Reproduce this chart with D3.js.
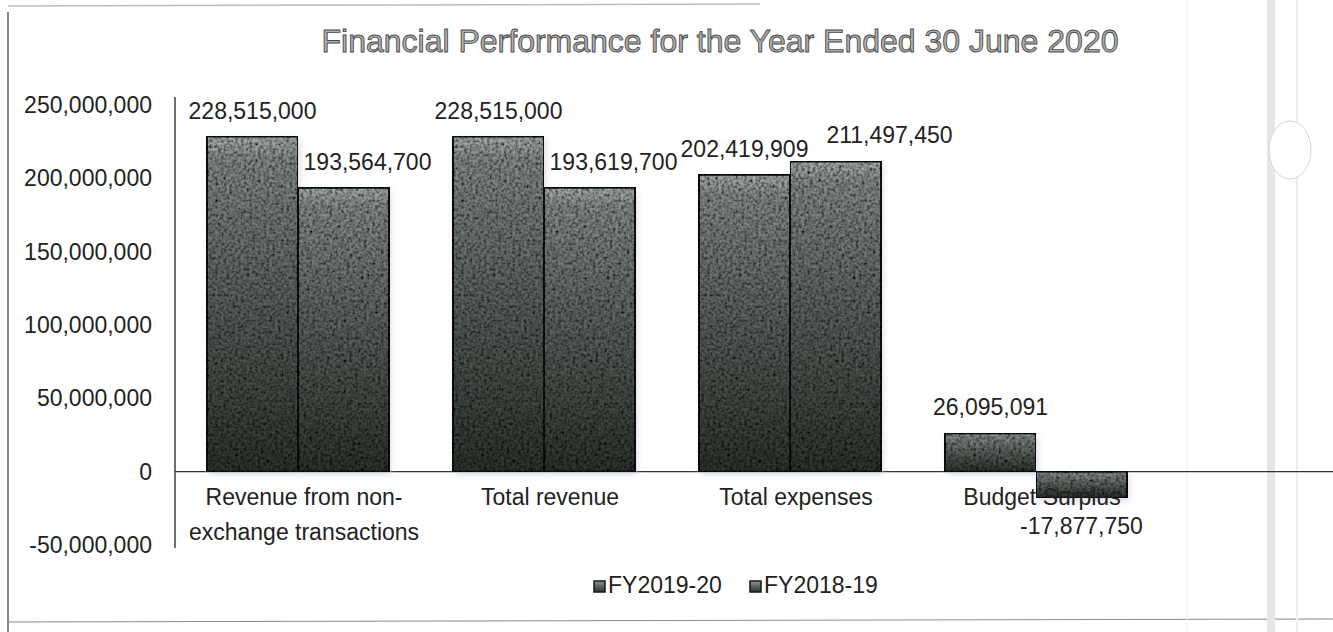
<!DOCTYPE html>
<html>
<head>
<meta charset="utf-8">
<script src="https://cdn.jsdelivr.net/npm/d3@7/dist/d3.min.js"></script>
<style>
  body { margin: 0; background: #fff; }
  text { font-family: "Liberation Sans", Arial, sans-serif; }
</style>
</head>
<body>
<div class="chart"></div>
<script>
// data
var categories = ["Revenue from non-exchange transactions", "Total revenue", "Total expenses", "Budget Surplus"];
var catLines = [["Revenue from non-", "exchange transactions"], ["Total revenue"], ["Total expenses"], ["Budget Surplus"]];
var seriesNames = ["FY2019-20", "FY2018-19"];
var fy2020 = [228515000, 228515000, 202419909, 26095091];
var fy2019 = [193564700, 193619700, 211497450, -17877750];
var yTicks = [-50000000, 0, 50000000, 100000000, 150000000, 200000000, 250000000];

var svgWidth = 1333, svgHeight = 632;

var svg = d3.select(".chart")
  .append("svg")
  .attr("width", svgWidth)
  .attr("height", svgHeight);

// gradient + grainy texture for the bars
var defs = svg.append("defs");
var grad = defs.append("linearGradient")
  .attr("id", "barGrad")
  .attr("x1", 0).attr("y1", 0).attr("x2", 0).attr("y2", 1);
grad.append("stop").attr("offset", "0%").attr("stop-color", "#a9b0ad");
grad.append("stop").attr("offset", "7%").attr("stop-color", "#868d8a");
grad.append("stop").attr("offset", "55%").attr("stop-color", "#575e5a");
grad.append("stop").attr("offset", "100%").attr("stop-color", "#30362f");

var grain = defs.append("filter").attr("id", "grain")
  .attr("x", 0).attr("y", 0).attr("width", 1).attr("height", 1);
grain.append("feTurbulence")
  .attr("type", "fractalNoise")
  .attr("baseFrequency", 0.35)
  .attr("numOctaves", 2)
  .attr("seed", 4)
  .attr("result", "noise");
grain.append("feColorMatrix")
  .attr("in", "noise")
  .attr("type", "matrix")
  .attr("values", "0 0 0 0 0  0 0 0 0 0  0 0 0 0 0  0 0 0 -1.8 1.25")
  .attr("result", "dots");
grain.append("feComposite")
  .attr("in", "dots").attr("in2", "SourceGraphic")
  .attr("operator", "in").attr("result", "dotsIn");
grain.append("feMerge").call(function(m) {
  m.append("feMergeNode").attr("in", "SourceGraphic");
  m.append("feMergeNode").attr("in", "dotsIn");
});

var shadow = defs.append("filter").attr("id", "shadow")
  .attr("x", "-10%").attr("y", "-10%").attr("width", "130%").attr("height", "130%");
shadow.append("feGaussianBlur").attr("stdDeviation", 3);

// page frame (scan edges)
svg.append("line").attr("x1", 8).attr("y1", 12).attr("x2", 8).attr("y2", 632)
  .attr("stroke", "#333").attr("stroke-width", 1.2);
svg.append("line").attr("x1", 8).attr("y1", 6).attr("x2", 760).attr("y2", 4)
  .attr("stroke", "#bbb").attr("stroke-width", 1.5);
svg.append("line").attr("x1", 8).attr("y1", 622).attr("x2", 1333).attr("y2", 619)
  .attr("stroke", "#888").attr("stroke-width", 1);
svg.append("line").attr("x1", 1187).attr("y1", 0).attr("x2", 1187).attr("y2", 632)
  .attr("stroke", "#ececf4").attr("stroke-width", 1);
svg.append("rect").attr("x", 1267).attr("y", 0).attr("width", 8).attr("height", 632)
  .attr("fill", "#e6e6e6");
svg.append("line").attr("x1", 1297).attr("y1", 0).attr("x2", 1297).attr("y2", 632)
  .attr("stroke", "#eee").attr("stroke-width", 2);
svg.append("ellipse").attr("cx", 1290).attr("cy", 150).attr("rx", 21).attr("ry", 29)
  .attr("fill", "#fff").attr("stroke", "#d5d5d5").attr("stroke-width", 1);

// title
svg.append("text")
  .attr("x", 720)
  .attr("y", 52)
  .attr("text-anchor", "middle")
  .style("font-size", "32px")
  .attr("fill", "#b0b0b0")
  .attr("stroke", "#4a4a4a")
  .attr("stroke-width", 0.9)
  .text("Financial Performance for the Year Ended 30 June 2020");

// scales
var x0 = d3.scaleBand()
  .domain(categories)
  .range([175, 1159])
  .paddingInner(0.26)
  .paddingOuter(0.13);

var x1 = d3.scaleBand()
  .domain(seriesNames)
  .range([0, x0.bandwidth()]);

var y = d3.scaleLinear()
  .domain([-50000000, 250000000])
  .range([545, 105]);

// plain hyphen for negatives, as in the source
var fmt = function(v) { return d3.format(",")(v).replace("\u2212", "-"); };

// y axis labels + line
var yAxis = svg.append("g");
yAxis.selectAll("text")
  .data(yTicks)
  .enter()
  .append("text")
  .attr("x", 152)
  .attr("y", d => y(d) + 8)
  .attr("text-anchor", "end")
  .style("font-size", "23px")
  .attr("fill", "#222")
  .text(d => fmt(d));

svg.append("line")
  .attr("x1", 175).attr("x2", 175)
  .attr("y1", 97).attr("y2", 548)
  .attr("stroke", "#222").attr("stroke-width", 1.3);

// zero line
svg.append("line")
  .attr("x1", 175).attr("x2", 1333)
  .attr("y1", y(0)).attr("y2", y(0))
  .attr("stroke", "#333").attr("stroke-width", 1.3);

// bars
var rows = categories.map(function(c, i) {
  return [
    { cat: c, series: seriesNames[0], value: fy2020[i], other: fy2019[i] },
    { cat: c, series: seriesNames[1], value: fy2019[i], other: fy2020[i] }
  ];
});

var groups = svg.selectAll(".grp")
  .data(rows)
  .enter()
  .append("g")
  .attr("class", "grp")
  .attr("transform", d => `translate(${x0(d[0].cat)},0)`);

// soft shadow under bars
groups.selectAll(".shd")
  .data(d => d)
  .enter()
  .append("rect")
  .attr("x", d => x1(d.series) + 2)
  .attr("y", d => Math.min(y(d.value), y(0)) + 3)
  .attr("width", x1.bandwidth())
  .attr("height", d => Math.abs(y(d.value) - y(0)))
  .attr("fill", "#c9bfd3")
  .attr("opacity", 0.6)
  .attr("filter", "url(#shadow)");

groups.selectAll(".bar")
  .data(d => d)
  .enter()
  .append("rect")
  .attr("class", "bar")
  .attr("x", d => x1(d.series))
  .attr("y", d => Math.min(y(d.value), y(0)))
  .attr("width", x1.bandwidth())
  .attr("height", d => Math.abs(y(d.value) - y(0)))
  .attr("fill", "url(#barGrad)")
  .attr("filter", "url(#grain)")
  .attr("stroke", "#151815")
  .attr("stroke-width", 2);

// value labels; second-series labels nudged right, more when they'd collide
function labelShift(d) {
  if (d.series !== seriesNames[1] || d.value < 0) return 0;
  return Math.abs(y(d.value) - y(d.other)) < 25 ? 54 : 24;
}

groups.selectAll(".lbl")
  .data(d => d)
  .enter()
  .append("text")
  .attr("class", "lbl")
  .attr("x", d => x1(d.series) + x1.bandwidth() / 2 + labelShift(d))
  .attr("y", d => d.value >= 0 ? y(d.value) - 18 : y(d.value) + 36)
  .attr("text-anchor", "middle")
  .style("font-size", "23px")
  .attr("fill", "#222")
  .text(d => fmt(d.value));

// category labels
groups.append("text")
  .attr("x", x0.bandwidth() / 2)
  .attr("y", y(0) + 33)
  .attr("text-anchor", "middle")
  .style("font-size", "23px")
  .attr("fill", "#222")
  .selectAll("tspan")
  .data((d, i) => catLines[i])
  .enter()
  .append("tspan")
  .attr("x", (d, i, n) => x0.bandwidth() / 2 + 6)
  .attr("dy", (d, i) => i === 0 ? 0 : 35)
  .text(d => d);

// legend
var legend = svg.append("g").attr("transform", "translate(594,580)");
var legendX = [0, 156];
seriesNames.forEach(function(s, i) {
  legend.append("rect")
    .attr("x", legendX[i]).attr("y", 1)
    .attr("width", 11).attr("height", 11)
    .attr("fill", "url(#barGrad)")
    .attr("stroke", "#151815").attr("stroke-width", 1.5);
  legend.append("text")
    .attr("x", legendX[i] + 14)
    .attr("y", 13)
    .style("font-size", "23px")
    .attr("fill", "#222")
    .text(s);
});
</script>
</body>
</html>
